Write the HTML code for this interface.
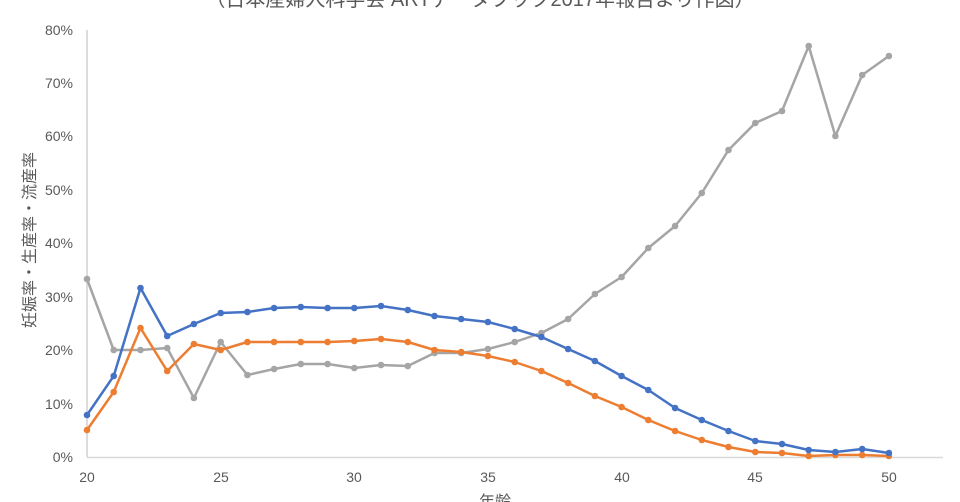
<!DOCTYPE html>
<html><head><meta charset="utf-8"><style>
html,body{margin:0;padding:0;background:#fff;}
svg{display:block;font-family:"Liberation Sans","Noto Sans CJK JP",sans-serif;}
</style></head><body>
<svg id="s" width="960" height="502" viewBox="0 0 960 502">
<text x="480" y="6" text-anchor="middle" font-size="20" fill="#595959">（日本産婦人科学会 ARTデータブック2017年報告より作図）</text>
<line x1="87" y1="30" x2="87" y2="457" stroke="#d0d0d0" stroke-width="1.5"/>
<line x1="87" y1="457.5" x2="943" y2="457.5" stroke="#d9d9d9" stroke-width="1.5"/>
<g font-size="14" fill="#595959" text-anchor="end">
<text x="73" y="462">0%</text><text x="73" y="409">10%</text><text x="73" y="355">20%</text><text x="73" y="302">30%</text><text x="73" y="248">40%</text><text x="73" y="195">50%</text><text x="73" y="141">60%</text><text x="73" y="88">70%</text><text x="73" y="35">80%</text>
</g>
<g font-size="14" fill="#595959" text-anchor="middle">
<text x="87" y="482">20</text><text x="221" y="482">25</text><text x="354" y="482">30</text><text x="488" y="482">35</text><text x="622" y="482">40</text><text x="755" y="482">45</text><text x="889" y="482">50</text>
</g>
<text x="495" y="507" text-anchor="middle" font-size="16" fill="#595959">年齢</text>
<text transform="translate(35,240) rotate(-90)" text-anchor="middle" font-size="16" fill="#595959">妊娠率・生産率・流産率</text>
<g id="g"></g>
</svg>
<script>
var series=[
["#a5a5a5",[279,350,350,348,398,342,375,369,364,364,368,365,366,353,353,349,342,333,319,294,277,248,226,193,150,123,111,46,136,75,56]],
["#ed7d31",[430,392,328,371,344,350,342,342,342,342,341,339,342,350,352,356,362,371,383,396,407,420,431,440,447,452,453,456,455,455,456]],
["#4472c4",[415,376,288,336,324,313,312,308,307,308,308,306,310,316,319,322,329,337,349,361,376,390,408,420,431,441,444,450,452,449,453]]
];
var g=document.getElementById('g'),h="";
series.forEach(function(s){
 var pts=s[1].map(function(y,i){return (87+i*26.73).toFixed(1)+","+y;});
 h+='<polyline fill="none" stroke="'+s[0]+'" stroke-width="2.5" stroke-linejoin="round" points="'+pts.join(" ")+'"/>';
 s[1].forEach(function(y,i){h+='<circle cx="'+(87+i*26.73).toFixed(1)+'" cy="'+y+'" r="3.3" fill="'+s[0]+'"/>';});
});
g.innerHTML=h;
</script>
</body></html>
